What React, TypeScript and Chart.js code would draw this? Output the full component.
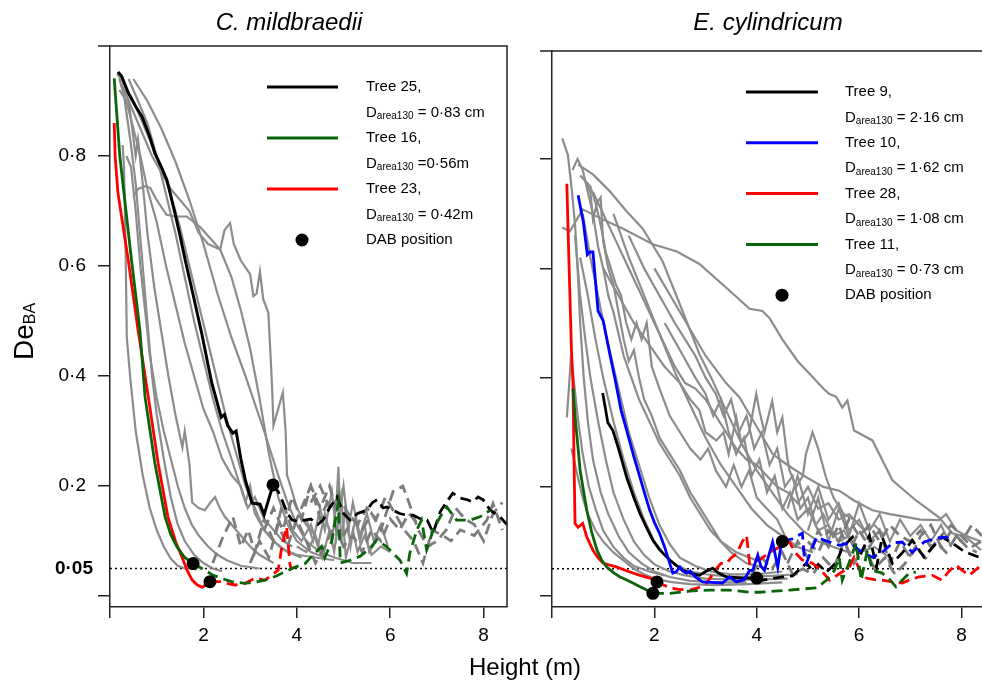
import React, { useEffect, useRef } from 'react';
import { Chart, registerables } from 'chart.js';
Chart.register(...registerables);

const FONT = '"Liberation Sans", Arial, sans-serif';
const GRAY = '#8c8c8c';
const GRAY_D = '#7c7c7c';
const GREEN = '#0a640a';

type P = number[][];

// ---------- shared ticks ----------
const xTickValues = [0, 2, 4, 6, 8];
const yTickValues = [0, 0.2, 0.4, 0.6, 0.8];
const refLevel = 0.05;

// ---------- LEFT PANEL: C. mildbraedii ----------
const leftXMax = 8.5;
const L_T25_SOLID: P = [[0.17,0.953],[0.25,0.945],[0.39,0.915],[0.55,0.89],[0.69,0.871],[0.85,0.835],[0.96,0.805],[1.1,0.78],[1.22,0.756],[1.39,0.696],[1.5,0.655],[1.61,0.611],[1.8,0.54],[1.97,0.475],[2.1,0.42],[2.18,0.387],[2.3,0.35],[2.38,0.325],[2.45,0.33],[2.52,0.31],[2.63,0.296],[2.7,0.3],[2.8,0.25],[2.9,0.21],[3.04,0.169],[3.21,0.167],[3.3,0.148],[3.49,0.202]];
const L_T25_DASH: P = [[3.49,0.202],[3.6,0.19],[3.68,0.175],[3.8,0.15],[3.9,0.138],[4.05,0.135],[4.17,0.138],[4.3,0.14],[4.45,0.13],[4.56,0.138],[4.7,0.16],[4.86,0.18],[5.0,0.15],[5.14,0.138],[5.3,0.15],[5.5,0.156],[5.62,0.17],[5.72,0.175],[5.85,0.16],[5.93,0.162],[6.06,0.156],[6.2,0.15],[6.35,0.147],[6.49,0.147],[6.65,0.14],[6.79,0.138],[6.92,0.115],[7.07,0.153],[7.2,0.17],[7.34,0.187],[7.5,0.178],[7.65,0.175],[7.77,0.171],[7.88,0.18],[7.99,0.175],[8.14,0.156],[8.35,0.144],[8.5,0.13]];
const L_T16_SOLID: P = [[0.09,0.941],[0.21,0.8],[0.46,0.611],[0.64,0.484],[0.75,0.362],[0.96,0.242],[1.18,0.144],[1.3,0.112],[1.43,0.09],[1.6,0.07],[1.78,0.059]];
const L_T16_DASH: P = [[1.78,0.059],[2.03,0.047],[2.2,0.038],[2.39,0.032],[2.6,0.026],[2.89,0.023],[3.1,0.025],[3.32,0.029],[3.55,0.036],[3.75,0.044],[3.95,0.052],[4.18,0.059],[4.35,0.075],[4.53,0.09],[4.6,0.07],[4.75,0.1],[4.89,0.169],[4.93,0.06],[5.14,0.065],[5.35,0.072],[5.57,0.087],[5.71,0.102],[5.92,0.09],[6.21,0.065],[6.35,0.041],[6.42,0.078],[6.57,0.12],[6.67,0.138],[6.78,0.084],[6.92,0.12],[7.07,0.144],[7.21,0.162],[7.42,0.138],[7.71,0.138],[7.92,0.144],[8.14,0.156]];
const L_T23_SOLID: P = [[0.09,0.86],[0.11,0.8],[0.17,0.733],[0.39,0.611],[0.6,0.484],[0.82,0.362],[1.03,0.242],[1.24,0.144],[1.4,0.1],[1.54,0.071],[1.66,0.045],[1.76,0.029],[1.87,0.02],[1.97,0.016],[2.05,0.02],[2.14,0.026]];
const L_T23_DASH: P = [[2.14,0.026],[2.39,0.026],[2.55,0.022],[2.68,0.02],[2.89,0.023],[3.1,0.032],[3.32,0.029],[3.46,0.038],[3.6,0.047],[3.68,0.09],[3.78,0.126],[3.82,0.09],[3.85,0.06],[3.88,0.047]];
const L_DAB_X = [3.49, 1.78, 2.14];
const L_DAB_Y = [0.202, 0.059, 0.026];

const L_GRAY: P[] = [
  [[0.27,0.82],[0.3,0.78],[0.33,0.65],[0.36,0.47],[0.43,0.4],[0.55,0.3],[0.7,0.22],[0.85,0.16],[1.0,0.12],[1.15,0.09],[1.3,0.068],[1.45,0.055],[1.6,0.05],[1.75,0.05],[1.85,0.048]],
  [[0.2,0.94],[0.3,0.91],[0.45,0.82],[0.55,0.75],[0.62,0.68],[0.7,0.6],[0.8,0.5],[0.9,0.4],[1.0,0.33],[1.15,0.25],[1.3,0.18],[1.45,0.13],[1.6,0.1],[1.8,0.075],[2.0,0.06],[2.2,0.05],[2.4,0.045]],
  [[0.5,0.726],[0.6,0.74],[0.75,0.745],[0.86,0.742],[1.0,0.72],[1.21,0.693],[1.4,0.69],[1.64,0.69],[1.93,0.671],[2.15,0.65],[2.36,0.63],[2.6,0.58],[2.8,0.52],[3.0,0.45],[3.2,0.36],[3.4,0.26],[3.6,0.18],[3.8,0.13],[4.0,0.1],[4.3,0.08],[4.6,0.07]],
  [[0.3,0.92],[0.5,0.88],[0.7,0.84],[0.9,0.8],[1.1,0.77],[1.3,0.74],[1.5,0.72],[1.7,0.7],[1.9,0.66],[2.1,0.64],[2.36,0.63],[2.45,0.665],[2.57,0.678],[2.65,0.64],[2.8,0.61],[3.0,0.585],[3.07,0.545],[3.14,0.55],[3.21,0.59],[3.28,0.54],[3.39,0.515],[3.43,0.45],[3.47,0.38],[3.5,0.31],[3.6,0.34],[3.7,0.37],[3.76,0.3],[3.79,0.22],[3.9,0.19],[4.0,0.16],[4.2,0.13],[4.4,0.11]],
  [[0.15,0.95],[0.3,0.93],[0.5,0.9],[0.7,0.86],[0.9,0.82],[1.1,0.78],[1.3,0.73],[1.5,0.67],[1.7,0.6],[1.9,0.53],[2.1,0.46],[2.3,0.39],[2.5,0.32],[2.7,0.26],[2.9,0.2],[3.1,0.16],[3.3,0.12],[3.5,0.1],[3.8,0.08],[4.1,0.07]],
  [[0.2,0.92],[0.35,0.9],[0.5,0.85],[0.65,0.8],[0.8,0.74],[1.0,0.68],[1.2,0.6],[1.4,0.53],[1.6,0.46],[1.8,0.4],[2.0,0.34],[2.2,0.3],[2.4,0.25],[2.6,0.22],[2.8,0.2],[2.95,0.16],[3.1,0.18],[3.3,0.14],[3.5,0.12],[3.7,0.1],[3.9,0.09]],
  [[0.25,0.93],[0.4,0.9],[0.55,0.8],[0.6,0.83],[0.7,0.75],[0.8,0.66],[0.95,0.56],[1.1,0.48],[1.25,0.4],[1.4,0.33],[1.55,0.27],[1.6,0.3],[1.7,0.24],[1.76,0.17],[1.9,0.16],[2.03,0.156],[2.15,0.17],[2.25,0.18],[2.35,0.16],[2.46,0.144],[2.6,0.13],[2.8,0.11],[3.0,0.09],[3.2,0.075],[3.5,0.06]],
  [[0.35,0.8],[0.45,0.78],[0.55,0.7],[0.65,0.6],[0.75,0.52],[0.85,0.44],[1.0,0.36],[1.15,0.3],[1.3,0.25],[1.45,0.2],[1.6,0.16],[1.75,0.13],[1.9,0.11],[2.1,0.09],[2.3,0.075],[2.5,0.065],[2.8,0.055],[3.2,0.05]],
  [[0.4,0.94],[0.6,0.9],[0.8,0.86],[1.0,0.8],[1.2,0.73],[1.4,0.66],[1.6,0.58],[1.8,0.5],[2.0,0.43],[2.2,0.36],[2.4,0.3],[2.6,0.25],[2.75,0.21],[2.9,0.17],[3.0,0.2],[3.1,0.15],[3.3,0.12],[3.5,0.1],[3.7,0.085],[4.0,0.075],[4.4,0.07],[4.8,0.065]],
  [[0.5,0.94],[0.8,0.9],[1.1,0.85],[1.4,0.79],[1.7,0.72],[2.0,0.64],[2.3,0.55],[2.6,0.47],[2.9,0.4],[3.1,0.35],[3.3,0.3],[3.45,0.26],[3.6,0.22],[3.8,0.17],[4.0,0.13],[4.2,0.1],[4.5,0.08],[4.8,0.07],[5.2,0.06],[5.6,0.06]],
  [[3.9,0.12],[4.1,0.1],[4.3,0.13],[4.45,0.09],[4.6,0.15],[4.75,0.1],[4.85,0.17],[4.89,0.235],[4.95,0.1],[5.05,0.16],[5.15,0.09],[5.25,0.14],[5.35,0.1],[5.45,0.13],[5.55,0.08],[5.7,0.1]],
  [[4.0,0.09],[4.2,0.08],[4.4,0.11],[4.55,0.07],[4.7,0.12],[4.8,0.08],[4.95,0.18],[5.05,0.07],[5.2,0.12],[5.3,0.08],[5.45,0.11],[5.6,0.075],[5.8,0.09],[6.0,0.08]],
  [[4.2,0.14],[4.35,0.1],[4.5,0.16],[4.6,0.12],[4.75,0.19],[4.85,0.11],[5.0,0.2],[5.1,0.12],[5.2,0.17],[5.35,0.11],[5.5,0.15],[5.65,0.1],[5.8,0.13],[5.95,0.09]],
];
const L_GRAY_DASH: P[] = [
  [[2.2,0.06],[2.42,0.108],[2.63,0.144],[2.8,0.09],[2.96,0.12],[3.1,0.08],[3.3,0.14],[3.5,0.1],[3.7,0.17],[3.9,0.12],[4.1,0.16],[4.3,0.2],[4.5,0.14],[4.7,0.18]],
  [[4.3,0.17],[4.5,0.2],[4.7,0.16],[4.9,0.18],[5.1,0.15],[5.3,0.13],[5.5,0.16],[5.7,0.14],[5.9,0.18],[6.1,0.15],[6.3,0.12],[6.5,0.1],[6.7,0.06],[6.9,0.12],[7.13,0.11],[7.3,0.1],[7.5,0.12],[7.8,0.11],[8.07,0.138],[8.2,0.168],[8.4,0.12]],
  [[5.0,0.11],[5.2,0.14],[5.4,0.12],[5.6,0.15],[5.8,0.12],[6.06,0.19],[6.27,0.2],[6.4,0.17],[6.6,0.12],[6.8,0.09],[7.0,0.1],[7.2,0.12],[7.4,0.16],[7.6,0.14],[7.8,0.13],[8.0,0.1],[8.2,0.15],[8.4,0.17]],
  [[3.0,0.06],[3.2,0.1],[3.4,0.07],[3.6,0.13],[3.8,0.09],[4.0,0.14],[4.2,0.1],[4.4,0.06],[4.6,0.09],[4.8,0.13],[5.0,0.09],[5.2,0.11],[5.4,0.08],[5.6,0.12],[5.8,0.1],[6.0,0.14],[6.2,0.12],[6.4,0.15],[6.6,0.13]],
  [[3.3,0.12],[3.5,0.16],[3.7,0.12],[3.9,0.18],[4.1,0.14],[4.3,0.2],[4.5,0.16],[4.7,0.2],[4.9,0.14]],
];

// ---------- RIGHT PANEL: E. cylindricum ----------
const rightXMax = 8.4;
const R_T9_SOLID: P = [[0.99,0.372],[1.05,0.34],[1.09,0.318],[1.19,0.303],[1.3,0.27],[1.46,0.217],[1.6,0.18],[1.72,0.151],[1.85,0.125],[1.97,0.102],[2.1,0.085],[2.3,0.066],[2.55,0.047],[2.7,0.042],[2.88,0.038],[3.0,0.045],[3.14,0.051],[3.25,0.042],[3.41,0.035],[3.55,0.034],[3.72,0.033],[4.0,0.033]];
const R_T9_DASH: P = [[4.0,0.033],[4.11,0.029],[4.3,0.032],[4.5,0.035],[4.7,0.037],[4.85,0.05],[4.97,0.06],[5.09,0.047],[5.2,0.058],[5.36,0.044],[5.56,0.062],[5.67,0.089],[5.87,0.108],[6.0,0.071],[6.2,0.111],[6.34,0.053],[6.45,0.108],[6.65,0.06],[6.85,0.08],[7.04,0.102],[7.27,0.071],[7.43,0.089],[7.62,0.108],[7.82,0.097],[8.0,0.085],[8.15,0.078],[8.38,0.07]];
const R_T10_SOLID: P = [[0.51,0.734],[0.61,0.686],[0.69,0.625],[0.74,0.63],[0.8,0.63],[0.9,0.522],[1.0,0.504],[1.13,0.443],[1.23,0.398],[1.35,0.34],[1.46,0.303],[1.6,0.255],[1.72,0.217],[1.82,0.185],[1.91,0.157],[2.0,0.135],[2.1,0.115],[2.2,0.09],[2.3,0.06],[2.36,0.042],[2.43,0.045],[2.5,0.053],[2.56,0.045],[2.63,0.042],[2.7,0.046],[2.8,0.035],[2.94,0.026],[3.1,0.025],[3.33,0.024],[3.47,0.035],[3.6,0.026],[3.75,0.03],[3.86,0.047],[3.92,0.047],[4.02,0.075],[4.08,0.055],[4.15,0.047],[4.31,0.099],[4.41,0.053],[4.48,0.097],[4.5,0.1]];
const R_T10_DASH: P = [[4.5,0.1],[4.7,0.105],[4.89,0.115],[4.93,0.07],[4.97,0.06],[5.05,0.08],[5.17,0.108],[5.3,0.103],[5.42,0.099],[5.61,0.093],[5.81,0.097],[5.95,0.088],[6.06,0.08],[6.26,0.071],[6.45,0.08],[6.65,0.097],[6.84,0.099],[7.04,0.08],[7.27,0.099],[7.5,0.106],[7.7,0.108],[7.85,0.1]];
const R_T28_SOLID: P = [[0.29,0.755],[0.32,0.65],[0.35,0.55],[0.38,0.45],[0.41,0.39],[0.43,0.25],[0.45,0.133],[0.51,0.126],[0.6,0.133],[0.68,0.108],[0.8,0.084],[0.9,0.07],[1.0,0.06],[1.27,0.053],[1.52,0.044],[1.72,0.038],[1.91,0.033],[2.05,0.026]];
const R_T28_DASH: P = [[2.05,0.026],[2.3,0.015],[2.5,0.012],[2.69,0.011],[2.85,0.015],[3.02,0.024],[3.22,0.051],[3.3,0.06],[3.41,0.06],[3.5,0.07],[3.61,0.078],[3.72,0.1],[3.8,0.111],[3.86,0.06],[3.95,0.063],[4.05,0.066],[4.25,0.08],[4.45,0.09],[4.64,0.099],[4.75,0.08],[4.89,0.066],[5.09,0.06],[5.26,0.047],[5.42,0.029],[5.6,0.04],[5.81,0.053],[5.9,0.071],[6.0,0.05],[6.14,0.033],[6.3,0.03],[6.45,0.029],[6.65,0.026],[6.84,0.024],[7.0,0.03],[7.17,0.035],[7.43,0.038],[7.62,0.029],[7.75,0.045],[7.89,0.057],[8.0,0.048],[8.15,0.038],[8.34,0.053]];
const R_T11_SOLID: P = [[0.41,0.38],[0.45,0.33],[0.49,0.29],[0.55,0.23],[0.62,0.19],[0.68,0.157],[0.78,0.115],[0.88,0.084],[0.97,0.066],[1.07,0.053],[1.2,0.043],[1.33,0.035],[1.45,0.03],[1.58,0.024],[1.72,0.017],[1.85,0.011],[1.97,0.005]];
const R_T11_DASH: P = [[1.97,0.005],[2.3,0.005],[2.69,0.009],[3.08,0.011],[3.47,0.011],[3.86,0.007],[4.05,0.007],[4.35,0.009],[4.64,0.011],[4.9,0.013],[5.17,0.015],[5.36,0.029],[5.52,0.047],[5.61,0.071],[5.67,0.029],[5.8,0.06],[5.94,0.097],[6.04,0.029],[6.16,0.084],[6.26,0.047],[6.45,0.042],[6.6,0.03],[6.72,0.017],[6.85,0.03],[6.98,0.042],[7.11,0.044]];
const R_DAB_X = [2.05, 1.97, 4.0, 4.5];
const R_DAB_Y = [0.026, 0.005, 0.033, 0.1];

const R_GRAY: P[] = [
  [[0.2,0.838],[0.31,0.808],[0.39,0.741],[0.45,0.68],[0.5,0.6],[0.55,0.5],[0.62,0.4],[0.7,0.32],[0.8,0.25],[0.95,0.19],[1.1,0.15],[1.3,0.11],[1.5,0.08],[1.75,0.06],[2.0,0.045],[2.3,0.035],[2.7,0.028],[3.2,0.025],[3.8,0.025]],
  [[0.2,0.675],[0.35,0.668],[0.6,0.708],[0.94,0.692],[1.38,0.673],[1.97,0.644],[2.44,0.631],[2.88,0.608],[3.41,0.564],[3.86,0.526],[4.11,0.522],[4.25,0.509],[4.5,0.47],[4.8,0.43],[5.1,0.4],[5.3,0.38],[5.42,0.37],[5.55,0.365],[5.67,0.345],[5.77,0.358],[5.9,0.303],[6.26,0.285],[6.65,0.212],[7.11,0.175],[7.56,0.144],[7.82,0.115],[8.09,0.108],[8.38,0.084]],
  [[0.51,0.79],[0.8,0.772],[1.13,0.741],[1.46,0.704],[1.77,0.673],[2.16,0.613],[2.55,0.522],[2.88,0.443],[3.14,0.394],[3.4,0.34],[3.7,0.28],[4.0,0.23],[4.3,0.19],[4.6,0.15],[4.9,0.12],[5.2,0.1],[5.5,0.09],[5.8,0.08]],
  [[0.4,0.78],[0.5,0.8],[0.6,0.78],[0.7,0.74],[0.8,0.7],[0.9,0.64],[1.0,0.6],[1.1,0.55],[1.2,0.52],[1.3,0.48],[1.4,0.44],[1.55,0.4],[1.7,0.36],[1.9,0.32],[2.1,0.28],[2.3,0.25],[2.5,0.22],[2.7,0.18],[2.9,0.15],[3.1,0.12],[3.3,0.1],[3.6,0.08],[4.0,0.065]],
  [[0.55,0.77],[0.65,0.76],[0.75,0.74],[0.8,0.69],[0.88,0.72],[0.95,0.73],[1.0,0.65],[1.1,0.6],[1.2,0.57],[1.3,0.52],[1.4,0.47],[1.5,0.43],[1.6,0.45],[1.7,0.4],[1.8,0.36],[1.95,0.33],[2.1,0.29],[2.3,0.26],[2.5,0.23],[2.7,0.19],[2.9,0.16],[3.1,0.13],[3.3,0.1],[3.5,0.08],[3.8,0.06],[4.2,0.05]],
  [[0.65,0.76],[0.75,0.75],[0.85,0.72],[0.95,0.68],[1.05,0.63],[1.15,0.6],[1.25,0.57],[1.35,0.55],[1.45,0.5],[1.55,0.47],[1.65,0.5],[1.75,0.47],[1.85,0.5],[1.95,0.42],[2.1,0.38],[2.3,0.33],[2.5,0.3],[2.7,0.27],[2.9,0.25],[3.05,0.27],[3.2,0.23],[3.4,0.2],[3.55,0.24],[3.7,0.2],[3.85,0.23],[4.0,0.18],[4.2,0.16],[4.4,0.14],[4.6,0.1],[4.8,0.09]],
  [[1.0,0.6],[1.3,0.55],[1.6,0.5],[1.9,0.46],[2.2,0.42],[2.5,0.39],[2.7,0.36],[2.88,0.34],[3.0,0.3],[3.21,0.285],[3.35,0.3],[3.45,0.26],[3.6,0.327],[3.7,0.28],[3.85,0.3],[3.99,0.37],[4.05,0.34],[4.15,0.3],[4.3,0.357],[4.4,0.3],[4.5,0.327],[4.6,0.25],[4.64,0.23],[4.77,0.2],[4.9,0.22],[4.96,0.26],[5.09,0.3],[5.2,0.27],[5.35,0.218],[5.5,0.18],[5.7,0.15],[5.9,0.14],[6.1,0.12],[6.3,0.13],[6.5,0.11]],
  [[0.8,0.74],[1.0,0.7],[1.2,0.66],[1.4,0.62],[1.6,0.58],[1.8,0.54],[2.0,0.5],[2.2,0.46],[2.4,0.42],[2.6,0.39],[2.8,0.38],[3.0,0.36],[3.2,0.33],[3.4,0.3],[3.6,0.27],[3.8,0.25],[4.0,0.24],[4.2,0.22],[4.4,0.2],[4.6,0.19],[4.8,0.17],[5.0,0.2],[5.2,0.16],[5.4,0.17],[5.6,0.14],[5.8,0.15],[6.0,0.13]],
  [[2.0,0.6],[2.5,0.52],[3.0,0.44],[3.4,0.39],[3.66,0.364],[4.0,0.31],[4.31,0.26],[4.6,0.24],[4.96,0.218],[5.3,0.2],[5.61,0.193],[5.9,0.175],[6.26,0.157],[6.6,0.15],[6.91,0.145],[7.2,0.14],[7.56,0.139],[7.7,0.15],[7.9,0.12],[8.1,0.11],[8.38,0.1]],
  [[0.38,0.27],[0.5,0.22],[0.6,0.18],[0.7,0.15],[0.85,0.12],[1.0,0.1],[1.2,0.08],[1.4,0.065],[1.6,0.05],[1.8,0.04],[2.0,0.032],[2.3,0.026],[2.7,0.022],[3.2,0.02],[3.8,0.022],[4.5,0.025]],
  [[0.45,0.66],[0.55,0.55],[0.65,0.47],[0.75,0.4],[0.9,0.32],[1.05,0.25],[1.2,0.19],[1.4,0.14],[1.6,0.1],[1.8,0.075],[2.0,0.058],[2.3,0.045],[2.6,0.038],[3.0,0.032],[3.5,0.03],[4.0,0.03],[4.6,0.032]],
  [[0.55,0.62],[0.7,0.55],[0.85,0.47],[1.0,0.4],[1.2,0.32],[1.4,0.25],[1.6,0.19],[1.8,0.14],[2.0,0.1],[2.2,0.075],[2.4,0.058],[2.7,0.045],[3.0,0.04],[3.4,0.036],[3.8,0.035],[4.3,0.037],[4.8,0.04]],
  [[0.29,0.327],[0.33,0.38],[0.37,0.44],[0.42,0.4],[0.5,0.33],[0.6,0.26],[0.72,0.2],[0.85,0.16],[1.0,0.12],[1.2,0.09],[1.4,0.07],[1.6,0.055],[1.9,0.045],[2.2,0.038]],
  [[0.6,0.7],[0.75,0.62],[0.9,0.55],[1.05,0.48],[1.2,0.42],[1.35,0.36],[1.5,0.3],[1.7,0.24],[1.9,0.18],[2.1,0.13],[2.3,0.095],[2.5,0.07],[2.8,0.055],[3.1,0.045],[3.5,0.04],[4.0,0.04],[4.5,0.045]],
  [[1.2,0.7],[1.5,0.62],[1.8,0.55],[2.1,0.48],[2.4,0.41],[2.7,0.35],[3.0,0.29],[3.3,0.24],[3.6,0.2],[3.9,0.16],[4.2,0.13],[4.5,0.11],[4.8,0.09],[5.1,0.08]],
  [[1.5,0.66],[1.8,0.6],[2.1,0.55],[2.4,0.5],[2.6,0.47],[2.8,0.44],[3.0,0.4],[3.2,0.37],[3.35,0.33],[3.5,0.36],[3.65,0.3],[3.8,0.33],[3.95,0.27],[4.1,0.3],[4.25,0.24],[4.4,0.27],[4.55,0.2],[4.7,0.22],[4.85,0.16],[5.0,0.18],[5.15,0.13],[5.3,0.15],[5.5,0.11],[5.7,0.12],[5.9,0.09]],
  [[2.2,0.5],[2.5,0.45],[2.8,0.4],[3.0,0.37],[3.15,0.33],[3.3,0.36],[3.45,0.3],[3.6,0.26],[3.75,0.29],[3.9,0.22],[4.05,0.25],[4.2,0.19],[4.35,0.22],[4.5,0.16],[4.65,0.19],[4.8,0.14],[5.0,0.16],[5.2,0.12],[5.4,0.13],[5.6,0.1],[5.8,0.11],[6.0,0.08],[6.3,0.09],[6.6,0.07]],
  [[5.0,0.12],[5.2,0.18],[5.4,0.1],[5.6,0.16],[5.8,0.11],[6.0,0.17],[6.2,0.12],[6.4,0.15],[6.6,0.1],[6.8,0.14],[7.0,0.11],[7.2,0.13],[7.4,0.1],[7.6,0.13],[7.8,0.09]],
  [[4.6,0.16],[4.8,0.22],[5.0,0.15],[5.2,0.2],[5.4,0.14],[5.6,0.17],[5.8,0.12],[6.0,0.14],[6.2,0.1],[6.4,0.12]],
];
const R_GRAY_DASH: P[] = [
  [[4.6,0.06],[4.8,0.1],[5.0,0.07],[5.2,0.12],[5.4,0.09],[5.6,0.13],[5.8,0.08],[6.0,0.12],[6.2,0.09],[6.4,0.12],[6.6,0.06],[6.8,0.1],[7.0,0.07],[7.2,0.11],[7.4,0.13],[7.6,0.09],[7.8,0.12],[8.0,0.1],[8.2,0.13],[8.4,0.11]],
  [[3.9,0.04],[4.1,0.07],[4.3,0.05],[4.5,0.08],[4.7,0.04],[4.9,0.05],[5.1,0.04],[5.3,0.07],[5.5,0.05],[5.7,0.1],[5.9,0.06],[6.1,0.09],[6.3,0.05],[6.5,0.07],[6.7,0.04],[6.9,0.06],[7.1,0.09],[7.3,0.07],[7.5,0.1],[7.7,0.08],[7.9,0.11],[8.1,0.09],[8.3,0.08]],
  [[5.0,0.1],[5.2,0.08],[5.4,0.12],[5.6,0.1],[5.8,0.14],[6.0,0.11],[6.2,0.13],[6.4,0.1],[6.6,0.13],[6.8,0.11],[7.0,0.1],[7.2,0.12],[7.4,0.09],[7.6,0.11],[7.8,0.13],[8.0,0.11],[8.2,0.09],[8.38,0.1]],
];

// ---------- legends ----------
const leftLegendTree = ['Tree 25,', 'Tree 16,', 'Tree 23,'];
const leftLegendD = [' = 0·83 cm', ' =0·56m', ' = 0·42m'];
const leftLegendColor = ['#000000', GREEN, '#ff0000'];
const rightLegendTree = ['Tree 9,', 'Tree 10,', 'Tree 28,', 'Tree 11,'];
const rightLegendD = [' = 2·16 cm', ' = 1·62 cm', ' = 1·08 cm', ' = 0·73 cm'];
const rightLegendColor = ['#000000', '#0000ff', '#ff0000', GREEN];

// ---------- helpers ----------
const toXY = (p: P) => p.map(([x, y]) => ({ x, y }));
function lineDs(p: P, color: string, width: number, dash: number[], order: number) {
  return { type: 'line', data: toXY(p), borderColor: color, backgroundColor: color, borderWidth: width, borderDash: dash, pointRadius: 0, fill: false, tension: 0, order };
}
function dotsDs(xs: number[], ys: number[]) {
  return { type: 'line', data: xs.map((x, i) => ({ x, y: ys[i] })), showLine: false, pointRadius: 6.5, pointBackgroundColor: '#000', pointBorderColor: '#000', borderColor: '#000', pointBorderWidth: 0, order: 0 };
}
const DASH = [11, 6];

function scales(xMax: number, yMax: number, yWidth: number, yLabels: boolean) {
  return {
    x: {
      type: 'linear', min: 0, max: xMax,
      afterBuildTicks: (s: any) => { s.ticks = xTickValues.map((v) => ({ value: v })); },
      afterFit: (s: any) => { s.height = 77; },
      ticks: { autoSkip: false, maxRotation: 0, padding: 6, color: '#000', font: { family: FONT, size: 19 }, callback: (v: number) => (v === 0 ? '' : String(v)) },
      grid: { drawOnChartArea: false, drawTicks: true, tickLength: 11, color: '#222', lineWidth: 1.5 },
      border: { display: true, color: '#222', width: 1.5 },
    },
    y: {
      type: 'linear', min: -0.02, max: yMax,
      afterBuildTicks: (s: any) => { s.ticks = yTickValues.map((v) => ({ value: v })); },
      afterFit: (s: any) => { s.width = yWidth; },
      ticks: { autoSkip: false, padding: 12, color: '#000', font: { family: FONT, size: 19 }, callback: (v: number) => (!yLabels || v === 0 ? '' : v.toFixed(1).replace('.', '·')) },
      grid: { drawOnChartArea: false, drawTicks: true, tickLength: 12, color: '#222', lineWidth: 1.5 },
      border: { display: true, color: '#222', width: 1.5 },
    },
  };
}

function drawDText(ctx: CanvasRenderingContext2D, x: number, y: number, rest: string) {
  ctx.textAlign = 'left';
  ctx.textBaseline = 'middle';
  ctx.font = `15px ${FONT}`;
  ctx.fillText('D', x, y);
  const w1 = ctx.measureText('D').width;
  ctx.font = `10px ${FONT}`;
  ctx.fillText('area130', x + w1, y + 4);
  const w2 = ctx.measureText('area130').width;
  ctx.font = `15px ${FONT}`;
  ctx.fillText(rest, x + w1 + w2, y);
}

function drawLegend(ctx: CanvasRenderingContext2D, trees: string[], ds: string[], colors: string[], lx0: number, lx1: number, tx: number, y0: number, step: number, dotX: number) {
  ctx.save();
  ctx.fillStyle = '#000';
  for (let i = 0; i < trees.length; i++) {
    const y = y0 + i * 2 * step;
    ctx.strokeStyle = colors[i];
    ctx.lineWidth = 3;
    ctx.beginPath(); ctx.moveTo(lx0, y); ctx.lineTo(lx1, y); ctx.stroke();
    ctx.font = `15px ${FONT}`;
    ctx.textAlign = 'left'; ctx.textBaseline = 'middle';
    ctx.fillText(trees[i], tx, y);
    drawDText(ctx, tx, y + step, ds[i]);
  }
  const yd = y0 + trees.length * 2 * step;
  ctx.beginPath(); ctx.arc(dotX, yd, 6.5, 0, Math.PI * 2); ctx.fill();
  ctx.font = `15px ${FONT}`; ctx.textAlign = 'left'; ctx.textBaseline = 'middle';
  ctx.fillText('DAB position', tx, yd);
  ctx.restore();
}

function frame(ctx: CanvasRenderingContext2D, ca: any, rightBorder: boolean, endX: number) {
  ctx.save();
  ctx.strokeStyle = '#222';
  ctx.lineWidth = 1.5;
  ctx.beginPath();
  ctx.moveTo(ca.left - 12, ca.top);
  ctx.lineTo(endX, ca.top);
  if (rightBorder) ctx.lineTo(endX, ca.bottom);
  ctx.stroke();
  ctx.restore();
}

const leftDecor = {
  id: 'leftDecor',
  afterDraw(chart: any) {
    const ctx: CanvasRenderingContext2D = chart.ctx;
    const ca = chart.chartArea;
    frame(ctx, ca, true, ca.right);
    ctx.save();
    ctx.fillStyle = '#000';
    ctx.font = `italic 24px ${FONT}`;
    ctx.textAlign = 'center'; ctx.textBaseline = 'alphabetic';
    ctx.fillText('C. mildbraedii', 289, 30);
    ctx.save();
    ctx.translate(33, 360);
    ctx.rotate(-Math.PI / 2);
    ctx.textAlign = 'left';
    ctx.font = `28px ${FONT}`;
    ctx.fillText('De', 0, 0);
    const w = ctx.measureText('De').width;
    ctx.font = `16px ${FONT}`;
    ctx.fillText('BA', w, 2);
    ctx.restore();
    ctx.font = `bold 19px ${FONT}`;
    ctx.textAlign = 'right'; ctx.textBaseline = 'middle';
    ctx.fillText('0·05', 93, chart.scales.y.getPixelForValue(refLevel));
    ctx.restore();
    drawLegend(ctx, leftLegendTree, leftLegendD, leftLegendColor, 267, 338, 366, 87, 25.5, 302);
  },
};

const rightDecor = {
  id: 'rightDecor',
  afterDraw(chart: any) {
    const ctx: CanvasRenderingContext2D = chart.ctx;
    const ca = chart.chartArea;
    frame(ctx, ca, false, chart.width);
    ctx.save();
    ctx.fillStyle = '#000';
    ctx.font = `italic 24px ${FONT}`;
    ctx.textAlign = 'center'; ctx.textBaseline = 'alphabetic';
    ctx.fillText('E. cylindricum', 768, 30);
    ctx.font = `24px ${FONT}`;
    ctx.fillText('Height (m)', 525, 675);
    ctx.restore();
    drawLegend(ctx, rightLegendTree, rightLegendD, rightLegendColor, 746, 818, 845, 92, 25.4, 782);
  },
};

function buildConfig(side: 'L' | 'R'): any {
  const isL = side === 'L';
  const xMax = isL ? leftXMax : rightXMax;
  const datasets: any[] = [];
  datasets.push(lineDs([[0, refLevel], [xMax, refLevel]], '#000', 1.3, [2, 3], 6));
  const grays = isL ? L_GRAY : R_GRAY;
  const grayDash = isL ? L_GRAY_DASH : R_GRAY_DASH;
  grays.forEach((g) => datasets.push(lineDs(g, GRAY, 2.2, [], 5)));
  grayDash.forEach((g) => datasets.push(lineDs(g, GRAY_D, 2.8, DASH, 4)));
  if (isL) {
    datasets.push(lineDs(L_T16_DASH, GREEN, 2.8, DASH, 3));
    datasets.push(lineDs(L_T23_DASH, '#ff0000', 2.8, DASH, 3));
    datasets.push(lineDs(L_T25_DASH, '#000', 2.8, DASH, 3));
    datasets.push(lineDs(L_T16_SOLID, GREEN, 2.8, [], 2));
    datasets.push(lineDs(L_T23_SOLID, '#ff0000', 2.8, [], 2));
    datasets.push(lineDs(L_T25_SOLID, '#000', 3, [], 2));
    datasets.push(dotsDs(L_DAB_X, L_DAB_Y));
  } else {
    datasets.push(lineDs(R_T11_DASH, GREEN, 2.8, DASH, 3));
    datasets.push(lineDs(R_T28_DASH, '#ff0000', 2.8, DASH, 3));
    datasets.push(lineDs(R_T10_DASH, '#0000ff', 2.8, DASH, 3));
    datasets.push(lineDs(R_T9_DASH, '#000', 2.8, DASH, 3));
    datasets.push(lineDs(R_T11_SOLID, GREEN, 2.8, [], 2));
    datasets.push(lineDs(R_T28_SOLID, '#ff0000', 2.8, [], 2));
    datasets.push(lineDs(R_T10_SOLID, '#0000ff', 2.8, [], 2));
    datasets.push(lineDs(R_T9_SOLID, '#000', 2.8, [], 2));
    datasets.push(dotsDs(R_DAB_X, R_DAB_Y));
  }
  return {
    type: 'line',
    data: { datasets },
    options: {
      responsive: false,
      animation: false,
      devicePixelRatio: 1,
      events: [],
      layout: { autoPadding: false, padding: isL ? { left: 0, top: 46, right: 475, bottom: 0 } : { left: 520, top: 51, right: 0, bottom: 0 } },
      plugins: { legend: { display: false }, tooltip: { enabled: false }, title: { display: false } },
      scales: scales(xMax, isL ? 1.0 : 0.998, isL ? 110 : 32, isL),
    },
    plugins: [isL ? leftDecor : rightDecor],
  };
}

export default function App() {
  const leftRef = useRef<HTMLCanvasElement>(null);
  const rightRef = useRef<HTMLCanvasElement>(null);
  useEffect(() => {
    const c1 = new Chart(leftRef.current as HTMLCanvasElement, buildConfig('L'));
    const c2 = new Chart(rightRef.current as HTMLCanvasElement, buildConfig('R'));
    return () => { c1.destroy(); c2.destroy(); };
  }, []);
  return (
    <div style={{ position: 'fixed', left: 0, top: 0, width: 982, height: 684, background: '#fff', overflow: 'hidden' }}>
      <canvas ref={leftRef} width={982} height={684} style={{ position: 'absolute', left: 0, top: 0 }} />
      <canvas ref={rightRef} width={982} height={684} style={{ position: 'absolute', left: 0, top: 0 }} />
    </div>
  );
}
